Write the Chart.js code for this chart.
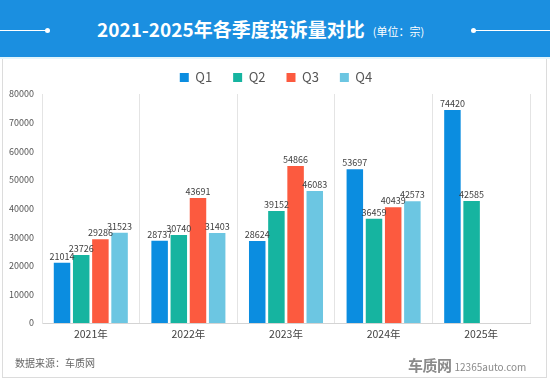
<!DOCTYPE html>
<html><head><meta charset="utf-8">
<script src="https://cdn.jsdelivr.net/npm/chart.js@4/dist/chart.umd.min.js"></script>
<style>
html,body{margin:0;padding:0;background:#fff;width:550px;height:380px;overflow:hidden;font-family:"Noto Sans CJK SC","Noto Sans",sans-serif;}
#hdr{position:absolute;left:0;top:0;width:550px;height:57px;background:#1b8fe0;}
#strip{position:absolute;left:0;top:57px;width:550px;height:2px;background:#e3f5fc;}
#panel{position:absolute;left:2px;top:59px;width:543px;height:318px;border:1px solid #dcdcdc;border-top:none;background:#fff;}
#title{position:absolute;left:97px;top:0;height:57px;display:flex;align-items:center;color:#fff;white-space:nowrap;}
#title b{font-size:19px;font-weight:700;}
#title span{font-size:11px;margin-left:8px;margin-top:4px;}
.ln{position:absolute;top:30px;height:1px;background:#fff;}
.dot{position:absolute;top:28px;width:5px;height:5px;border-radius:50%;background:#fff;}
#c{position:absolute;left:0;top:0;}
#src{position:absolute;left:15px;top:355px;font-size:10px;color:#666;}
#wm{position:absolute;left:408px;top:352px;color:#8a8a8a;white-space:nowrap;}
#wm b{font-size:15px;font-weight:700;letter-spacing:-0.5px;}
#wm span{font-size:10px;margin-left:3px;}
</style></head>
<body>
<div id="hdr"></div><div id="strip"></div><div id="panel"></div>
<div class="ln" style="left:0;width:47px"></div><div class="dot" style="left:45px"></div>
<div class="ln" style="left:473px;width:77px"></div><div class="dot" style="left:471px"></div>
<div id="title"><b>2021-2025年各季度投诉量对比</b><span>(单位：宗)</span></div>
<canvas id="c" width="550" height="380"></canvas>
<div id="src">数据来源：车质网</div>
<div id="wm"><b>车质网</b><span>12365auto.com</span></div>
<script>
const categories = ["2021年","2022年","2023年","2024年","2025年"];
const q1 = [21014, 28737, 28624, 53697, 74420];
const q2 = [23726, 30740, 39152, 36459, 42585];
const q3 = [29286, 43691, 54866, 40439, null];
const q4 = [31523, 31403, 46083, 42573, null];
const seriesNames = ["Q1","Q2","Q3","Q4"];
const colors = ["#0b8de0","#16b4a0","#fc5a3f","#6cc6e2"];
const yTicks = [0,10000,20000,30000,40000,50000,60000,70000,80000];

const labelPlugin = {
  id:'vals',
  afterLayout(chart){
    if(chart.legend){ chart.legend.left += 11; chart.legend.right += 11; }
  },
  afterDatasetsDraw(chart){
    const ctx = chart.ctx;
    ctx.save();
    ctx.font = '9px "Noto Sans CJK SC", sans-serif';
    ctx.fillStyle = '#404040';
    ctx.textAlign = 'center';
    ctx.textBaseline = 'bottom';
    chart.data.datasets.forEach((ds,i)=>{
      const meta = chart.getDatasetMeta(i);
      meta.data.forEach((el,j)=>{
        const v = ds.data[j];
        if(v===null||v===undefined) return;
        ctx.fillText(String(v), el.x, el.y - 2);
      });
    });
    ctx.restore();
  }
};

new Chart(document.getElementById('c'), {
  type:'bar',
  data:{
    labels: categories,
    datasets:[q1,q2,q3,q4].map((d,i)=>({label:seriesNames[i],data:d,backgroundColor:colors[i],borderWidth:0,categoryPercentage:0.786,barPercentage:0.86}))
  },
  options:{
    responsive:false,animation:false,
    layout:{padding:{top:50,left:0,right:20,bottom:37}},
    plugins:{
      legend:{position:'top',labels:{boxWidth:9,boxHeight:9,color:'#555',font:{size:13,family:'"Noto Sans CJK SC", sans-serif'},padding:21}},
      tooltip:{enabled:false}
    },
    scales:{
      x:{
        grid:{display:true,offset:true,color:'#e4e4e4',drawTicks:false},
        border:{display:true,color:'#d4d4d4'},
        ticks:{color:'#444',font:{size:10.5,family:'"Noto Sans CJK SC", sans-serif'},padding:5},
        afterFit(s){s.height=20;}
      },
      y:{
        min:0,max:80000,
        afterBuildTicks(s){s.ticks=yTicks.map(v=>({value:v}));},
        grid:{display:false,drawTicks:false},
        border:{display:true,color:'#e4e4e4'},
        ticks:{color:'#555',font:{size:9,family:'"Noto Sans CJK SC", sans-serif'},padding:8,callback:(v)=>String(v)},
        afterFit(s){s.width=42;}
      }
    }
  },
  plugins:[labelPlugin]
});
</script>
</body></html>
